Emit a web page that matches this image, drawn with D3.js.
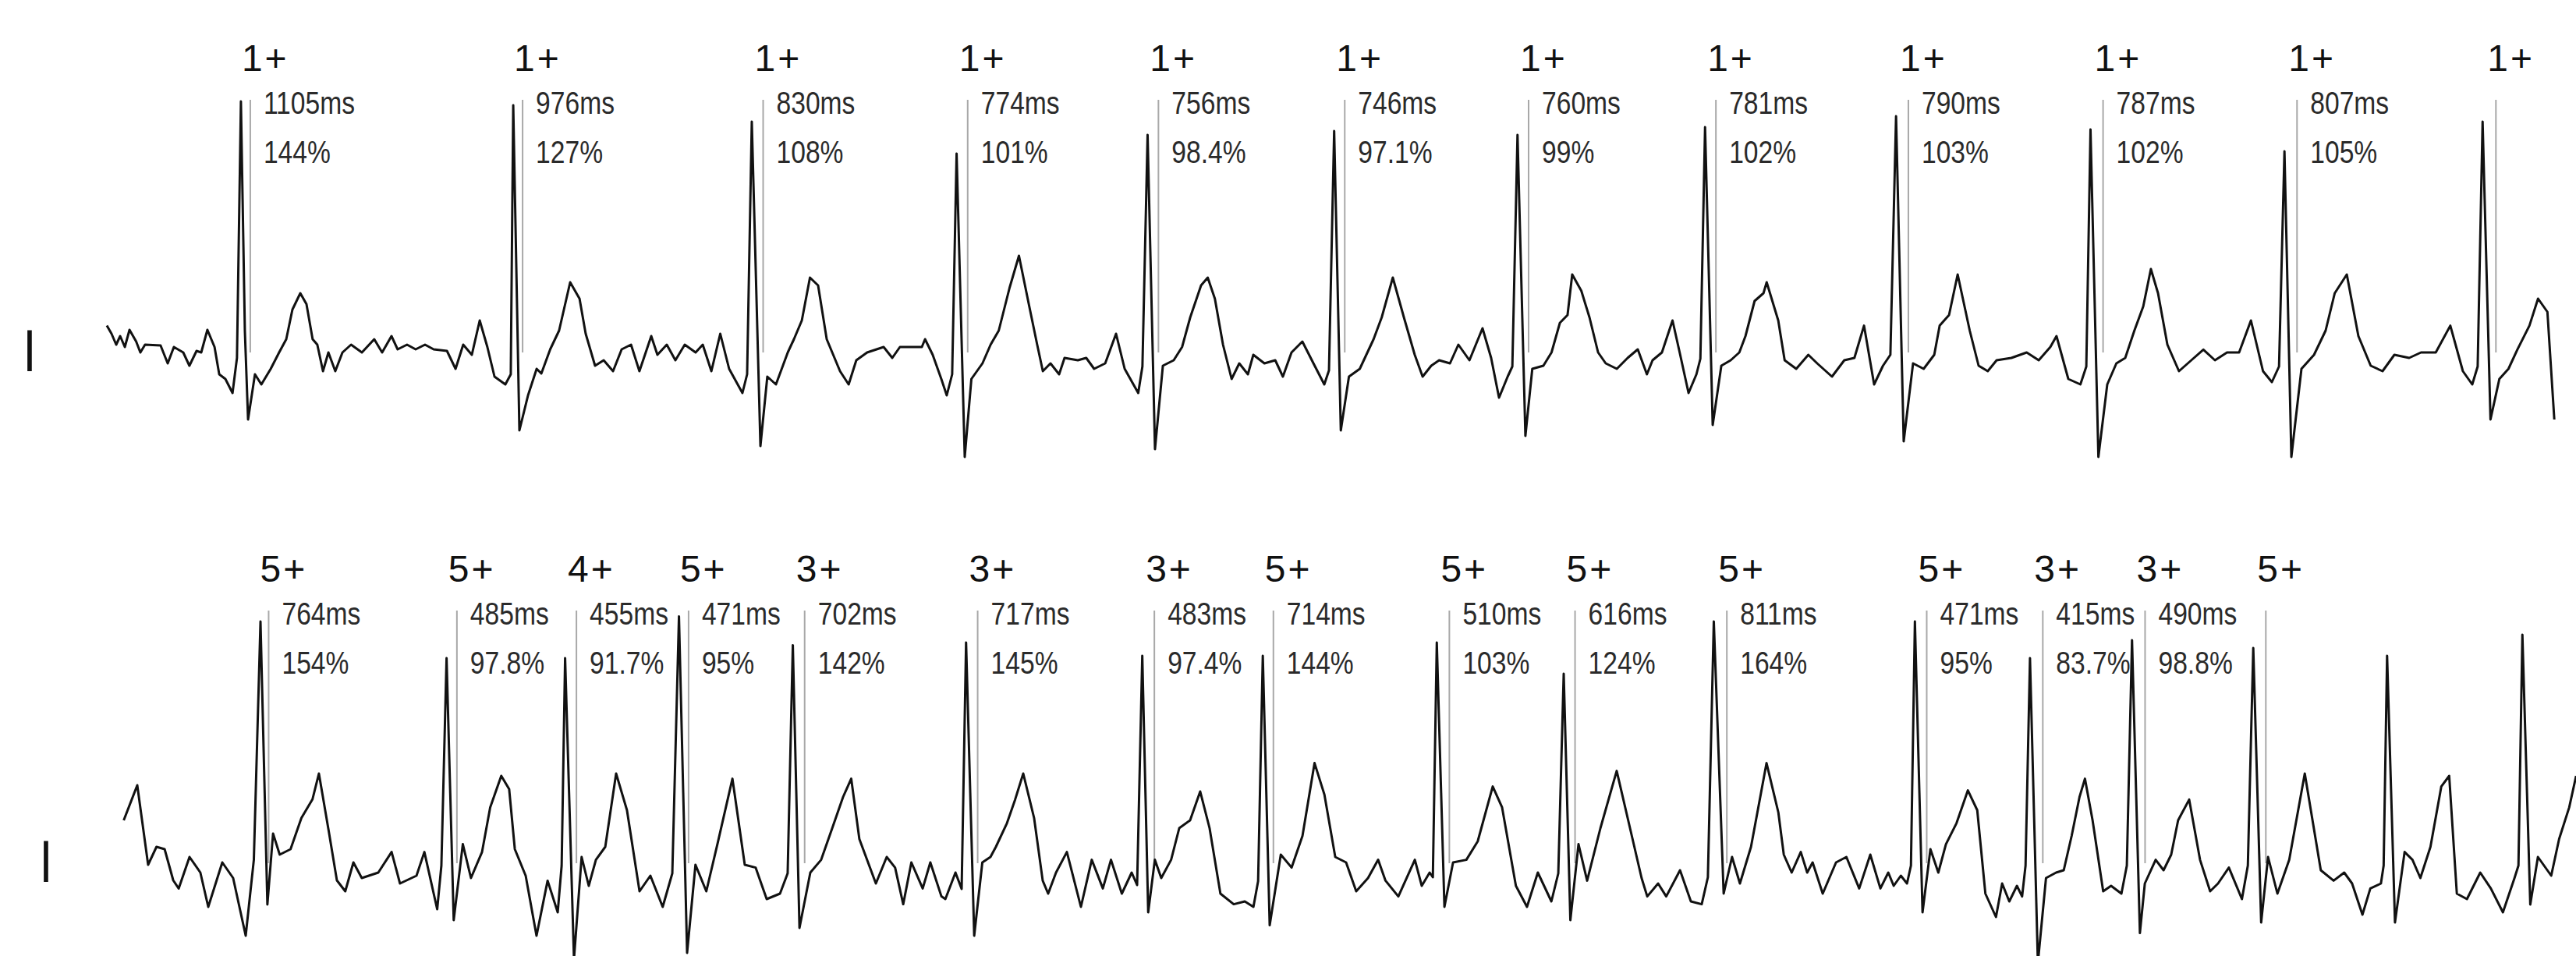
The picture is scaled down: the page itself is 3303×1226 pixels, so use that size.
<!DOCTYPE html>
<html lang="en">
<head>
<meta charset="UTF-8">
<title>ECG strip - lead I</title>
<script src="https://d3js.org/d3.v7.min.js"></script>
<style>
  body { margin: 0; background: #fff; }
  svg { display: block; }
</style>
</head>
<body>
<div id="chart"></div>
<script>
// trace samples: [time ms, amplitude µV]
const traceTop = [
  [0,162],[19,110],[38,40],[54,95],[73,25],[92,135],[119,60],[136,-10],[155,40],[218,35],[247,-80],[272,25],
  [310,-10],[335,-95],[364,0],[383,-10],[408,135],[437,25],[456,-150],[481,-180],[510,-270],[528,-45],
  [544,1600],[560,130],[573,-440],[601,-150],[627,-215],[665,-115],[699,-10],[728,75],[753,265],[785,370],
  [810,300],[835,75],[854,40],[877,-130],[899,-10],[927,-130],[956,-10],[991,40],[1035,-10],[1085,75],
  [1117,-10],[1155,95],[1180,10],[1218,40],[1253,10],[1291,40],[1326,10],[1380,0],[1415,-115],[1446,40],
  [1481,-25],[1513,195],[1544,25],[1573,-165],[1617,-215],[1639,-150],[1649,1575],[1674,-510],[1709,-285],
  [1744,-115],[1763,-145],[1799,10],[1835,130],[1880,440],[1918,335],[1943,110],[1981,-95],[2016,-60],
  [2054,-130],[2089,10],[2127,40],[2161,-130],[2209,95],[2234,-25],[2272,40],[2307,-60],[2345,40],
  [2389,-10],[2418,40],[2453,-130],[2489,110],[2525,-115],[2579,-270],[2598,-150],[2617,1470],[2652,-610],
  [2680,-165],[2715,-215],[2763,-10],[2788,75],[2820,195],[2853,470],[2886,420],[2921,75],[2975,-130],
  [3010,-215],[3041,-60],[3085,-10],[3152,25],[3187,-45],[3218,25],[3307,25],[3320,75],[3351,-25],
  [3386,-180],[3408,-285],[3430,-150],[3448,1265],[3481,-680],[3508,-180],[3553,-80],[3586,40],[3619,130],
  [3663,405],[3701,610],[3741,300],[3775,40],[3798,-130],[3829,-80],[3864,-150],[3886,-45],[3940,-60],
  [3974,-45],[4006,-115],[4051,-80],[4095,110],[4130,-115],[4185,-270],[4202,-100],[4223,1385],[4253,-630],
  [4285,-95],[4329,-60],[4363,25],[4396,215],[4440,420],[4467,470],[4496,335],[4529,40],[4564,-180],
  [4595,-80],[4630,-150],[4652,-25],[4697,-80],[4741,-60],[4772,-165],[4807,-10],[4851,60],[4896,-80],
  [4940,-215],[4959,-125],[4980,1410],[5007,-510],[5040,-165],[5084,-115],[5140,75],[5173,215],[5218,470],
  [5263,215],[5307,-25],[5339,-165],[5374,-95],[5406,-60],[5450,-80],[5484,40],[5529,-60],[5582,145],
  [5617,-45],[5649,-300],[5684,-165],[5703,-100],[5724,1385],[5756,-545],[5784,-115],[5829,-95],[5862,-10],
  [5896,180],[5927,230],[5946,490],[5983,385],[6016,215],[6051,-10],[6082,-80],[6127,-115],[6171,-45],
  [6212,10],[6249,-150],[6272,-60],[6310,-10],[6353,195],[6382,-10],[6418,-270],[6450,-150],[6466,-50],
  [6485,1435],[6516,-475],[6551,-95],[6589,-60],[6624,-10],[6649,95],[6686,320],[6722,370],[6735,440],
  [6782,195],[6808,-60],[6855,-115],[6904,-25],[6940,-80],[7000,-165],[7050,-60],[7091,-45],[7130,162],
  [7171,-215],[7207,-95],[7237,-25],[7260,1505],[7291,-580],[7329,-80],[7372,-115],[7415,-25],[7437,162],
  [7475,230],[7510,490],[7559,130],[7595,-95],[7632,-130],[7668,-60],[7728,-45],[7790,-10],[7839,-60],
  [7886,25],[7911,95],[7959,-180],[8008,-215],[8032,-100],[8049,1420],[8081,-680],[8117,-215],[8154,-80],
  [8190,-45],[8227,130],[8263,285],[8294,525],[8323,370],[8361,40],[8408,-130],[8458,-60],[8507,8],
  [8554,-60],[8603,-10],[8652,-10],[8700,195],[8749,-130],[8785,-200],[8814,-100],[8836,1280],[8864,-680],
  [8905,-115],[8956,-25],[9003,130],[9040,370],[9089,490],[9136,95],[9186,-95],[9234,-130],[9282,-25],
  [9342,-45],[9390,-10],[9450,-10],[9509,162],[9560,-130],[9598,-215],[9620,-100],[9640,1470],[9672,-440],
  [9708,-180],[9745,-115],[9781,8],[9830,162],[9865,335],[9903,250],[9931,-440]
];

const traceBottom = [
  [2,265],[57,490],[101,-20],[135,95],[168,80],[203,-120],[225,-172],[269,30],[313,-70],[345,-290],
  [402,-5],[446,-105],[497,-475],[530,12],[557,1540],[585,-275],[608,180],[635,45],[679,80],[723,280],
  [768,400],[794,565],[834,195],[867,-120],[901,-190],[934,-5],[968,-105],[1035,-70],[1089,62],[1123,-140],
  [1190,-90],[1222,62],[1274,-305],[1291,-25],[1312,1305],[1341,-375],[1378,112],[1411,-105],[1456,62],
  [1489,348],[1534,550],[1566,465],[1589,80],[1633,-90],[1677,-475],[1722,-122],[1763,-325],[1779,-25],
  [1793,1305],[1829,-625],[1860,30],[1889,-155],[1918,12],[1956,95],[2000,565],[2044,330],[2095,-190],
  [2139,-90],[2189,-290],[2228,-75],[2255,1572],[2288,-585],[2322,-20],[2366,-190],[2411,112],[2472,532],
  [2522,-20],[2566,-38],[2611,-240],[2665,-205],[2696,-75],[2717,1388],[2744,-425],[2788,-70],[2832,12],
  [2877,215],[2921,415],[2954,532],[2987,145],[3054,-140],[3098,30],[3132,-38],[3165,-273],[3198,-5],
  [3244,-172],[3275,-5],[3320,-223],[3336,-240],[3377,-70],[3402,-175],[3420,1405],[3453,-475],[3486,-5],
  [3519,30],[3541,95],[3586,247],[3619,398],[3652,565],[3696,280],[3731,-122],[3753,-205],[3785,-70],
  [3829,62],[3886,-290],[3930,12],[3975,-172],[4008,12],[4052,-205],[4092,-70],[4114,-150],[4135,1320],
  [4159,-325],[4186,12],[4212,-105],[4252,12],[4285,215],[4329,265],[4370,450],[4408,215],[4452,-205],
  [4506,-273],[4551,-255],[4586,-290],[4605,-125],[4624,1320],[4652,-408],[4697,45],[4741,-38],[4785,165],
  [4834,632],[4874,430],[4918,30],[4962,-5],[5003,-190],[5051,-105],[5092,12],[5122,-122],[5174,-223],
  [5241,12],[5269,-155],[5301,-70],[5314,-100],[5330,1405],[5361,-290],[5396,-5],[5450,12],[5496,130],
  [5557,482],[5595,348],[5651,-155],[5696,-290],[5740,-70],[5795,-255],[5823,-75],[5845,1205],[5872,-375],
  [5905,112],[5940,-122],[5994,215],[6060,582],[6117,195],[6161,-105],[6184,-223],[6228,-140],[6261,-223],
  [6317,-55],[6361,-255],[6405,-273],[6430,-100],[6454,1540],[6494,-205],[6528,30],[6560,-140],[6605,95],
  [6668,632],[6716,315],[6738,45],[6770,-70],[6807,62],[6833,-70],[6855,-5],[6896,-205],[6950,-5],
  [6992,30],[7044,-172],[7089,45],[7130,-172],[7162,-70],[7184,-155],[7213,-90],[7238,-140],[7254,-25],
  [7270,1540],[7301,-325],[7333,80],[7365,-70],[7396,112],[7439,247],[7485,457],[7523,330],[7556,-205],
  [7599,-355],[7624,-140],[7653,-255],[7684,-155],[7705,-223],[7719,-25],[7737,1305],[7769,-650],
  [7802,-105],[7843,-70],[7874,-55],[7906,165],[7938,415],[7960,532],[7991,265],[8034,-190],[8066,-155],
  [8108,-205],[8130,-25],[8151,1420],[8183,-458],[8203,-140],[8247,12],[8279,-55],[8310,45],[8338,265],
  [8383,398],[8427,12],[8468,-190],[8500,-140],[8544,-38],[8597,-240],[8621,-25],[8643,1370],[8675,-390],
  [8703,30],[8741,-205],[8789,12],[8852,565],[8917,-55],[8969,-122],[9012,-70],[9044,-140],[9086,-340],
  [9118,-172],[9161,-140],[9172,-25],[9186,1320],[9218,-390],[9257,62],[9289,12],[9321,-105],[9362,95],
  [9406,482],[9438,550],[9469,-205],[9510,-240],[9564,-70],[9607,-172],[9656,-325],[9703,-105],[9719,-25],
  [9735,1455],[9767,-275],[9798,30],[9852,-90],[9884,145],[9925,348],[9953,550]
];

// beat annotations: class label, interval to next beat (ms), interval ratio (%)
const firstMarkTop = 582;
const beatTop = ["1+","1+","1+","1+","1+","1+","1+","1+","1+","1+","1+","1+"];
const rrTop = [1105, 976, 830, 774, 756, 746, 760, 781, 790, 787, 807];
const pctTop = [144, 127, 108, 101, 98.4, 97.1, 99, 102, 103, 102, 105];

const firstMarkBottom = 590;
const beatBottom = ["5+","5+","4+","5+","3+","3+","3+","5+","5+","5+","5+","5+","3+","3+","5+"];
const rrBottom = [764, 485, 455, 471, 702, 717, 483, 714, 510, 616, 811, 471, 415, 490];
const pctBottom = [154, 97.8, 91.7, 95, 142, 145, 97.4, 144, 103, 124, 164, 95, 83.7, 98.8];

const leadName = "I";

const W = 3303, H = 1226;

const svg = d3.select("#chart").append("svg")
    .attr("width", W)
    .attr("height", H)
    .style("font-family", "'Liberation Sans', Arial, sans-serif");

const x = d3.scaleLinear().domain([0, 10000]).range([0, 3160]);
const y = d3.scaleLinear().domain([-1000, 2000]).range([200, -400]);

const line = d3.line()
    .x(d => x(d[0]))
    .y(d => y(d[1]));

const strips = [
    { trace: traceTop, first: firstMarkTop, beats: beatTop, rr: rrTop, pct: pctTop, left: 137, base: 450 },
    { trace: traceBottom, first: firstMarkBottom, beats: beatBottom, rr: rrBottom, pct: pctBottom, left: 158, base: 1105 }
];

strips.forEach(s => {
    const g = svg.append("g")
        .attr("transform", `translate(${s.left},${s.base})`);

    // lead name
    g.append("text")
        .attr("transform", "translate(-99,26) scale(0.8,1)")
        .attr("text-anchor", "middle")
        .attr("font-size", 76)
        .attr("fill", "#111")
        .text(leadName);

    // marker times from the first marker plus the intervals
    const marks = [s.first].concat(Array.from(d3.cumsum(s.rr), v => s.first + v));

    g.selectAll(".mark")
        .data(marks)
        .enter()
        .append("line")
        .attr("class", "mark")
        .attr("x1", d => x(d))
        .attr("x2", d => x(d))
        .attr("y1", -322)
        .attr("y2", 2)
        .attr("stroke", "#a8a8a8")
        .attr("stroke-width", 2);

    g.append("path")
        .datum(s.trace)
        .attr("d", line)
        .attr("fill", "none")
        .attr("stroke", "#111")
        .attr("stroke-width", 3)
        .attr("stroke-linejoin", "round");

    g.selectAll(".beat")
        .data(s.beats)
        .enter()
        .append("text")
        .attr("class", "beat")
        .attr("x", (d, i) => x(marks[i]) - 11)
        .attr("y", -359)
        .attr("font-size", 48)
        .attr("letter-spacing", 3)
        .attr("fill", "#111")
        .text(d => d);

    g.selectAll(".rr")
        .data(s.rr)
        .enter()
        .append("text")
        .attr("class", "rr")
        .attr("transform", (d, i) => `translate(${x(marks[i]) + 17},-304) scale(0.82,1)`)
        .attr("font-size", 41)
        .attr("fill", "#2a2a2a")
        .text(d => d + "ms");

    g.selectAll(".pct")
        .data(s.pct)
        .enter()
        .append("text")
        .attr("class", "pct")
        .attr("transform", (d, i) => `translate(${x(marks[i]) + 17},-241) scale(0.82,1)`)
        .attr("font-size", 41)
        .attr("fill", "#2a2a2a")
        .text(d => d + "%");
});
</script>
</body>
</html>
